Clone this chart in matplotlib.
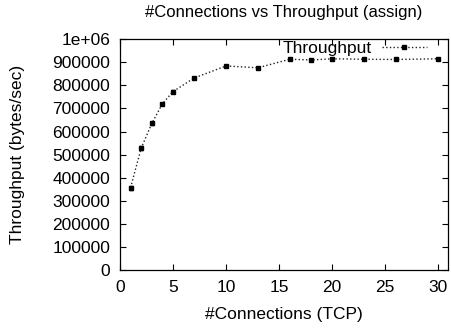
import matplotlib
matplotlib.use("Agg")
import matplotlib.pyplot as plt
import numpy as np

# donnees
connections = [1, 2, 3, 4, 5, 7, 10, 13, 16, 18, 20, 23, 26, 30]
throughput = [357000, 528000, 635000, 720000, 773000, 832000, 884000,
              876000, 913000, 910000, 915000, 913000, 912000, 915000]
errors = [9000, 8000, 6000, 5000, 5000, 4000, 4000,
          4000, 4000, 4000, 4000, 4000, 4000, 4000]

plt.rcParams['font.family'] = ['Liberation Sans', 'DejaVu Sans']
plt.rcParams['font.size'] = 12.5

fig = plt.figure(figsize=(4.51, 3.29), dpi=100)
ax = fig.add_axes([0.266, 0.179, 0.727, 0.702])

ax.errorbar(connections, throughput, yerr=errors, color='#222222', ls=':', lw=1,
            marker='s', ms=3, mfc='black', mec='black', ecolor='black',
            capsize=1.5, elinewidth=0.8)
# ligne seule pour la legende (sans barre d'erreur)
line, = ax.plot([], [], color='#222222', ls=':', lw=1, marker='s', ms=3,
                mfc='black', mec='black', label='Throughput')

ax.set_xlim(0, 30.9)
ax.set_ylim(0, 1e6)
ax.set_xticks(np.arange(0, 31, 5))
yt = np.arange(0, 1000001, 100000)
ax.set_yticks(yt)
ax.set_yticklabels([str(v) for v in yt[:-1]] + ['1e+06'])
ax.tick_params(direction='in', top=True, right=True, length=4, width=0.8, pad=7)
for s in ax.spines.values():
    s.set_linewidth(0.9)

ax.set_title('#Connections vs Throughput (assign)', fontsize=12, pad=16)
ax.set_xlabel('#Connections (TCP)', labelpad=9)
ax.set_ylabel('Throughput (bytes/sec)', labelpad=20)

leg = ax.legend(handles=[line], loc='upper right', frameon=False, handlelength=2.6,
                handletextpad=0.55, markerfirst=False, borderaxespad=0.05,
                bbox_to_anchor=(0.96, 1.025), fontsize=12.5)

fig.savefig('out.png', dpi=100)
